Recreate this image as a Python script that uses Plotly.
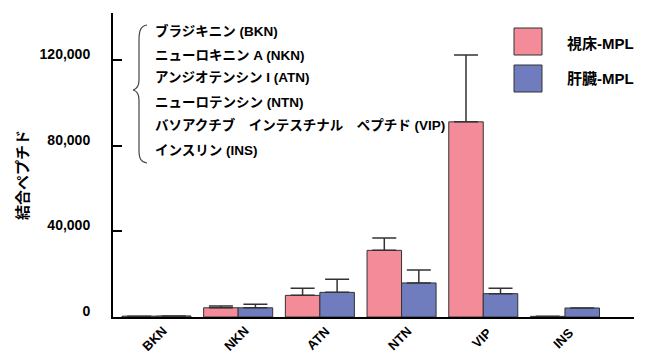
import plotly.graph_objects as go

# Peptides tested and mean bound amounts with upper error (SD)
categories = ["BKN", "NKN", "ATN", "NTN", "VIP", "INS"]
thalamus_vals = [400, 4300, 10100, 31100, 91100, 300]
thalamus_err = [0, 800, 3300, 5800, 31200, 0]
liver_vals = [500, 4300, 11500, 15900, 10900, 4200]
liver_err = [0, 1600, 6100, 6000, 2500, 0]

series_names = ["視床-MPL", "肝臓-MPL"]
peptide_names = [
    "ブラジキニン (BKN)",
    "ニューロキニン A (NKN)",
    "アンジオテンシン I (ATN)",
    "ニューロテンシン (NTN)",
    "バソアクチブ\u3000インテスチナル\u3000ペプチド (VIP)",
    "インスリン (INS)",
]
y_ticks = [0, 40000, 80000, 120000]

PINK = "#F38B98"
BLUE = "#6F7CBE"
EDGE = "#333333"
FONT = "Liberation Sans, Arial, Noto Sans CJK JP, sans-serif"

W, H = 648, 355
L, R, T, B = 113, 14, 13, 38
PW, PH = W - L - R, H - T - B


def px(x):
    return (x - L) / PW


def py(y):
    return (H - B - y) / PH


fig = go.Figure()
for name, vals, err, col in [
    (series_names[0], thalamus_vals, thalamus_err, PINK),
    (series_names[1], liver_vals, liver_err, BLUE),
]:
    fig.add_trace(go.Bar(
        x=categories, y=vals, name=name,
        marker=dict(color=col, line=dict(color=EDGE, width=1)),
        error_y=dict(type="data", array=err, arrayminus=[0] * len(err),
                     symmetric=False, color=EDGE, thickness=1.5, width=12),
        showlegend=False,
    ))

annotations = []
# slanted category labels under the x axis
for cat in categories:
    annotations.append(dict(
        x=cat, y=py(338), xref="x", yref="paper", text=cat,
        showarrow=False, textangle=-45, xanchor="center", yanchor="middle",
        xshift=-2,
        font=dict(family=FONT, size=13, color="black", weight="bold"),
    ))

# peptide key list
line_y = [31, 55, 78, 102, 125, 150]
for txt, yy in zip(peptide_names, line_y):
    annotations.append(dict(
        x=px(153), y=py(yy), xref="paper", yref="paper", text=txt,
        showarrow=False, xanchor="left", yanchor="middle",
        font=dict(family=FONT, size=13.5, color="black", weight="bold"),
    ))

# legend labels
for txt, yy in zip(series_names, [43, 79]):
    annotations.append(dict(
        x=px(565), y=py(yy), xref="paper", yref="paper", text=txt,
        showarrow=False, xanchor="left", yanchor="middle",
        font=dict(family=FONT, size=15, color="black", weight="bold"),
    ))

# y-axis title
annotations.append(dict(
    x=px(22), y=py(175), xref="paper", yref="paper", text="結合ペプチド",
    showarrow=False, textangle=-90, xanchor="center", yanchor="middle",
    font=dict(family=FONT, size=15, color="black", weight="bold"),
))

shapes = []
# legend swatches
for col, (y0, y1) in zip([PINK, BLUE], [(28, 55), (65, 92)]):
    shapes.append(dict(type="rect", xref="paper", yref="paper",
                       x0=px(514), x1=px(542), y0=py(y1), y1=py(y0),
                       fillcolor=col, line=dict(color=EDGE, width=1)))

# curly brace grouping the key list
brace_pts = [
    ("M", [(147, 25)]),
    ("C", [(141, 26), (139, 30), (139, 40)]),
    ("L", [(139, 80)]),
    ("C", [(139, 86), (137, 89), (133, 90)]),
    ("C", [(137, 91), (139, 94), (139, 100)]),
    ("L", [(139, 150)]),
    ("C", [(139, 159), (141, 162), (147, 163)]),
]
path = ""
for cmd, pts in brace_pts:
    path += cmd + " " + " ".join(f"{px(x):.5f},{py(y):.5f}" for x, y in pts) + " "
shapes.append(dict(type="path", xref="paper", yref="paper", path=path.strip(),
                   line=dict(color="#444444", width=1.2)))

fig.update_layout(
    width=W, height=H,
    margin=dict(l=L, r=R, t=T, b=B),
    paper_bgcolor="white", plot_bgcolor="white",
    barmode="group", bargap=0.155, bargroupgap=0,
    annotations=annotations, shapes=shapes,
    xaxis=dict(
        range=[-0.532, 5.845], showline=True, linecolor="black", linewidth=2,
        ticks="", showgrid=False, showticklabels=False, automargin=False,
    ),
    yaxis=dict(
        range=[0, 141900], showline=True, linecolor="black", linewidth=2,
        ticks="inside", ticklen=9, tickwidth=2, tickcolor="black",
        tickvals=y_ticks, tickformat=",d", showgrid=False, zeroline=False,
        ticklabelstandoff=18, ticklabelshift=-6, automargin=False,
        tickfont=dict(family=FONT, size=14, color="black", weight="bold"),
    ),
)

fig.write_html("out.html")
